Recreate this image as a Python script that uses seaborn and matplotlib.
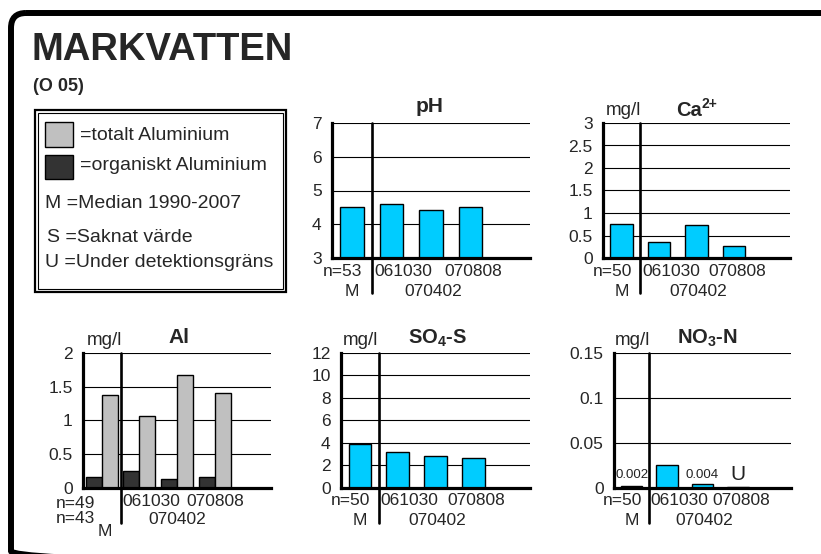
import matplotlib
matplotlib.use("Agg")
import matplotlib.pyplot as plt
from matplotlib.patches import Rectangle, FancyBboxPatch
from matplotlib.transforms import blended_transform_factory
import seaborn as sns
import pandas as pd

# ---------------- data ----------------
categories = ["M", "061030", "070402", "070808"]
ph_values = [4.50, 4.59, 4.42, 4.50]
ca_values = [0.76, 0.35, 0.73, 0.26]
al_org = [0.16, 0.24, 0.13, 0.16]
al_tot = [1.38, 1.07, 1.67, 1.40]
so4_values = [3.85, 3.16, 2.78, 2.65]
no3_values = [0.002, 0.025, 0.004, 0.0005]
no3_notes = ["0.002", "", "0.004", "U"]

ph_n = ["n=53"]
ca_n = ["n=50"]
al_n = ["n=49", "n=43"]
so4_n = ["n=50"]
no3_n = ["n=50"]

ph_ticks = [3, 4, 5, 6, 7]
ca_ticks = [0, 0.5, 1, 1.5, 2, 2.5, 3]
al_ticks = [0, 0.5, 1, 1.5, 2]
so4_ticks = [0, 2, 4, 6, 8, 10, 12]
no3_ticks = [0, 0.05, 0.1, 0.15]

legend_texts = ["=totalt Aluminium", "=organiskt Aluminium",
                "M =Median 1990-2007", "S =Saknat värde",
                "U =Under detektionsgräns"]

CYAN = "#00CCFF"
LIGHT = "#C0C0C0"
DARK = "#333333"

TICK_FS = 12.5
UNIT_FS = 13.5
TITLE_FS = 15
LEG_FS = 14

sns.set_style("white")
plt.rcParams["font.family"] = ["Liberation Sans", "DejaVu Sans"]
plt.rcParams["mathtext.fontset"] = "custom"
plt.rcParams["mathtext.rm"] = "Liberation Sans"
plt.rcParams["mathtext.bf"] = "Liberation Sans:bold"

W, H = 821, 554
fig = plt.figure(figsize=(W / 100, H / 100), dpi=100)

# overlay axes in pixel coordinates
ov = fig.add_axes([0, 0, 1, 1], zorder=0)
ov.set_xlim(0, W)
ov.set_ylim(H, 0)
ov.axis("off")


def px_axes(l, t, r, b):
    return fig.add_axes([l / W, 1 - b / H, (r - l) / W, (b - t) / H], zorder=2)


def style_axes(ax, ticks, ymin, ymax, box_h):
    ax.set_xlim(-0.5, 4.5)
    ax.set_ylim(ymin, ymax)
    ax.set_yticks(ticks)
    ax.set_yticklabels(["%g" % t for t in ticks], fontsize=TICK_FS)
    ax.set_xticks([])
    ax.set_xlabel("")
    ax.set_ylabel("")
    ax.tick_params(axis="y", length=0, pad=7.5)
    ax.grid(False)
    ax.yaxis.grid(True, color="black", lw=0.8)
    ax.set_axisbelow(True)
    for s in ["top", "right"]:
        ax.spines[s].set_visible(False)
    for s in ["left", "bottom"]:
        ax.spines[s].set_linewidth(2.3)
        ax.spines[s].set_color("black")
        ax.spines[s].set_zorder(5)
    ax.patch.set_alpha(0)
    tr = blended_transform_factory(ax.transData, ax.transAxes)
    ax.plot([0.5, 0.5], [1, -35 / box_h], transform=tr, clip_on=False,
            color="black", lw=1.9, zorder=6)


def xlabel(ax, x, text, dx, dy):
    ax.annotate(text, xy=(x, 0), xycoords=("data", "axes fraction"),
                xytext=(dx * 0.72, -dy * 0.72), textcoords="offset points",
                ha="center", va="center", fontsize=TICK_FS,
                annotation_clip=False)


def std_labels(ax, nlabels):
    xlabel(ax, 0, nlabels[0], -9, 13)
    xlabel(ax, 0, "M", 0, 33)
    xlabel(ax, 1, categories[1], 12, 13)
    xlabel(ax, 2, categories[2], 2, 33)
    xlabel(ax, 3, categories[3], 3, 13)


def simple_panel(box, values, ticks, nlab):
    ax = px_axes(*box)
    df = pd.DataFrame({"cat": categories, "val": values})
    sns.barplot(data=df, x="cat", y="val", ax=ax, color=CYAN, saturation=1,
                width=0.6, edgecolor="black", linewidth=1, zorder=3)
    style_axes(ax, ticks, ticks[0], ticks[-1], box[3] - box[1])
    std_labels(ax, nlab)
    return ax


# pH
simple_panel((332, 123, 530, 258), ph_values, ph_ticks, ph_n)
# Ca
simple_panel((603, 123, 790, 258), ca_values, ca_ticks, ca_n)
# SO4
simple_panel((341, 353, 530, 487.5), so4_values, so4_ticks, so4_n)
# NO3
ax_no3 = simple_panel((614, 353, 791, 487.5), no3_values, no3_ticks, no3_n)
for i, (v, note) in enumerate(zip(no3_values, no3_notes)):
    if not note:
        continue
    fs = 15 if note == "U" else 9.5
    ax_no3.annotate(note, xy=(i, 0), xycoords="data",
                    xytext=(0, 12.5 * 0.72), textcoords="offset points",
                    ha="center", va="center", fontsize=fs, color="#222222")

# Al (grouped)
box = (83, 353, 271, 487.5)
ax_al = px_axes(*box)
df_al = pd.DataFrame({
    "cat": categories * 2,
    "val": al_org + al_tot,
    "typ": ["org"] * 4 + ["tot"] * 4,
})
sns.barplot(data=df_al, x="cat", y="val", hue="typ", ax=ax_al,
            palette=[DARK, LIGHT], saturation=1, width=0.85,
            edgecolor="black", linewidth=1, legend=False, zorder=3)
style_axes(ax_al, al_ticks, 0, 2, box[3] - box[1])
xlabel(ax_al, 0, al_n[0], -26, 15.5)
xlabel(ax_al, 0, al_n[1], -26, 31)
xlabel(ax_al, 0, "M", 3, 44)
xlabel(ax_al, 1, categories[1], 12, 14)
xlabel(ax_al, 2, categories[2], 0, 32)
xlabel(ax_al, 3, categories[3], 1, 14)

# ---------------- titles ----------------
ov.text(430, 112, "pH", ha="center", va="baseline", fontsize=TITLE_FS,
        fontweight="bold")
ov.text(702, 116, "Ca", ha="right", va="baseline",
        fontsize=TITLE_FS - 0.5, fontweight="bold")
ov.text(702, 108, "2+", ha="left", va="baseline",
        fontsize=10, fontweight="bold")
ov.text(623, 115, "mg/l", ha="center", va="baseline", fontsize=UNIT_FS)

ov.text(104, 345, "mg/l", ha="center", va="baseline", fontsize=UNIT_FS)
ov.text(178.5, 343, "Al", ha="center", va="baseline", fontsize=TITLE_FS,
        fontweight="bold")
ov.text(360.5, 345, "mg/l", ha="center", va="baseline", fontsize=UNIT_FS)
ov.text(437.5, 344, r"SO$_{\mathbf{4}}$-S", ha="center", va="baseline",
        fontsize=TITLE_FS - 0.5, fontweight="bold")
ov.text(632, 345, "mg/l", ha="center", va="baseline", fontsize=UNIT_FS)
ov.text(707.5, 344, r"NO$_{\mathbf{3}}$-N", ha="center", va="baseline",
        fontsize=TITLE_FS - 0.5, fontweight="bold")

# main title
ov.text(32, 60, "MARKVATTEN", ha="left", va="baseline", fontsize=27.5,
        fontweight="bold")
ov.text(33, 91, "(O 05)", ha="left", va="baseline", fontsize=13,
        fontweight="bold")

# frame
frame = FancyBboxPatch((11, 13), 850, 553,
                       boxstyle="round,pad=0,rounding_size=15",
                       fill=False, ec="black", lw=4.3, clip_on=False)
ov.add_patch(frame)

# legend box
ov.add_patch(Rectangle((35, 109.5), 251, 182.5, fill=False, ec="black", lw=1.6))
ov.add_patch(Rectangle((38, 112.5), 245, 176.5, fill=False, ec="black", lw=0.8))
ov.add_patch(Rectangle((45, 122), 27.5, 24.5, fc=LIGHT, ec="black", lw=1))
ov.add_patch(Rectangle((45, 154.5), 27.5, 24.5, fc=DARK, ec="black", lw=1))
ov.text(80, 135, legend_texts[0], ha="left", va="center", fontsize=LEG_FS)
ov.text(80, 166, legend_texts[1], ha="left", va="center", fontsize=LEG_FS)
ov.text(45, 204, legend_texts[2], ha="left", va="center", fontsize=LEG_FS)
ov.text(47, 237.5, legend_texts[3], ha="left", va="center", fontsize=LEG_FS)
ov.text(45, 262.5, legend_texts[4], ha="left", va="center", fontsize=LEG_FS)

fig.savefig("out.png", dpi=100, facecolor="white")
